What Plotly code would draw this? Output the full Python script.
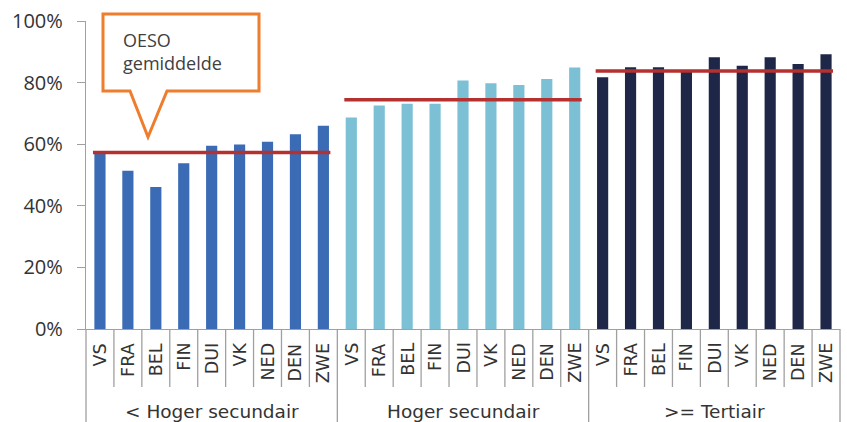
import plotly.graph_objects as go

groups = ["< Hoger secundair", "Hoger secundair", ">= Tertiair"]
countries = ["VS", "FRA", "BEL", "FIN", "DUI", "VK", "NED", "DEN", "ZWE"]
vals_low = [57.5, 51.4, 46.1, 53.8, 59.5, 59.9, 60.8, 63.2, 66.0]
vals_mid = [68.7, 72.6, 73.1, 73.1, 80.7, 79.8, 79.2, 81.2, 84.9]
vals_high = [81.7, 85.0, 85.0, 84.0, 88.2, 85.5, 88.2, 86.0, 89.2]
oeso_avg = [57.3, 74.4, 83.8]
colors = ["#3A6BB4", "#7CC0D6", "#1F2749"]
y_ticks = [0, 20, 40, 60, 80, 100]
y_tick_labels = ["0%", "20%", "40%", "60%", "80%", "100%"]
callout_text = "OESO<br>gemiddelde"

series = [vals_low, vals_mid, vals_high]
n_c = len(countries)
n_total = n_c * len(groups)

fig = go.Figure()
for g, vals in enumerate(series):
    keys = [f"{groups[g]}|{c}" for c in countries]
    fig.add_trace(go.Bar(x=keys, y=vals, marker=dict(color=colors[g], line=dict(width=0)),
                         showlegend=False, hoverinfo="y"))

shapes = []
annotations = []
axis_gray = "#A0A0A0"
# average lines
for g, avg in enumerate(oeso_avg):
    shapes.append(dict(type="line", xref="x", yref="y", x0=g * n_c - 0.25, x1=g * n_c + n_c - 1 + 0.25,
                       y0=avg, y1=avg, line=dict(color="#B5312F", width=3.5), layer="above"))

# separators below axis
for i in range(n_total + 1):
    full = (i % n_c == 0)
    shapes.append(dict(type="line", xref="paper", yref="paper", x0=i / n_total, x1=i / n_total,
                       y0=0, y1=(-93 / 308) if full else (-58 / 308),
                       line=dict(color=axis_gray, width=1.3)))

label_font = dict(family="DejaVu Sans", size=17.5, color="#333333")
for g in range(len(groups)):
    for c in countries:
        annotations.append(dict(x=f"{groups[g]}|{c}", xref="x", y=0, yref="paper", yshift=-12,
                                text=c, textangle=-90, showarrow=False, xanchor="center",
                                yanchor="top", font=label_font))
    annotations.append(dict(x=f"{groups[g]}|{countries[n_c // 2]}", xref="x", y=0, yref="paper",
                            yshift=-70, text=groups[g], showarrow=False, xanchor="center",
                            yanchor="top", font=dict(family="DejaVu Sans", size=18.5, color="#333333")))

# callout box
def px(x):
    return (x - 86) / 754

def py(y):
    return (329 - y) / 308

bx0, bx1, by0, by1 = px(103), px(259), py(14), py(91)
t0, t1, tipx, tipy = px(130), px(167), px(148), py(137)
path = (f"M {bx0},{by1} L {bx0},{by0} L {bx1},{by0} L {bx1},{by1} L {t1},{by1} "
        f"L {tipx},{tipy} L {t0},{by1} Z")
shapes.append(dict(type="path", xref="paper", yref="paper", path=path, fillcolor="white",
                   line=dict(color="#EE7D2E", width=3), layer="above"))
annotations.append(dict(x=px(121), y=py(26), xref="paper", yref="paper", text=callout_text,
                        showarrow=False, xanchor="left", yanchor="top", align="left",
                        font=dict(family="Open Sans", size=18, color="#404040")))

fig.update_layout(
    width=847, height=422,
    margin=dict(l=86, r=7, t=21, b=93, autoexpand=False),
    paper_bgcolor="white", plot_bgcolor="white",
    barmode="overlay", bargap=0.6,
    shapes=shapes, annotations=annotations,
    xaxis=dict(type="category", showticklabels=False, showline=True, linecolor=axis_gray,
               linewidth=1.3, ticks="", showgrid=False, zeroline=False, fixedrange=True,
               automargin=False),
    yaxis=dict(range=[0, 100], tickmode="array", tickvals=y_ticks, ticktext=y_tick_labels,
               showline=True, automargin=False,
               linecolor=axis_gray, linewidth=1.3, ticks="outside", ticklen=8, tickcolor=axis_gray,
               tickwidth=1.3, showgrid=False, zeroline=False, ticklabelstandoff=10,
               tickfont=dict(family="Open Sans", size=20, color="#333333")),
)

fig.write_html("out.html", config={"displayModeBar": False},
               post_script="document.body.style.margin='0';document.body.style.overflow='hidden';")
